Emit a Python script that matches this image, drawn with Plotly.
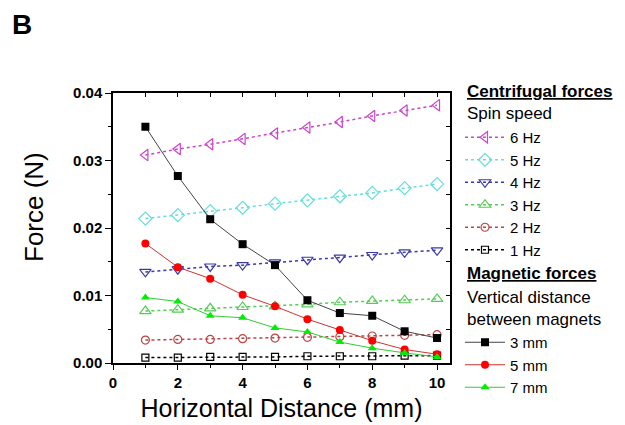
import plotly.graph_objects as go

distance_mm = [1, 2, 3, 4, 5, 6, 7, 8, 9, 10]

spin_labels = ["6 Hz", "5 Hz", "4 Hz", "3 Hz", "2 Hz", "1 Hz"]
centrifugal_6hz = [0.0308, 0.0317, 0.0324, 0.0332, 0.0340, 0.0349, 0.0357, 0.0366, 0.0374, 0.0382]
centrifugal_5hz = [0.0214, 0.0219, 0.0225, 0.0230, 0.0236, 0.0241, 0.0247, 0.0252, 0.0259, 0.0265]
centrifugal_4hz = [0.0135, 0.0139, 0.0143, 0.0145, 0.0149, 0.0153, 0.0156, 0.0160, 0.0164, 0.0167]
centrifugal_3hz = [0.0077, 0.0079, 0.0081, 0.0083, 0.0084, 0.0087, 0.0090, 0.0092, 0.0093, 0.0095]
centrifugal_2hz = [0.0034, 0.0035, 0.0035, 0.0036, 0.0037, 0.0038, 0.0039, 0.0040, 0.0041, 0.0042]
centrifugal_1hz = [0.0008, 0.0008, 0.0009, 0.0009, 0.0009, 0.0010, 0.0010, 0.0010, 0.0011, 0.0011]

magnet_labels = ["3 mm", "5 mm", "7 mm"]
magnetic_3mm = [0.0350, 0.0277, 0.0213, 0.0176, 0.0145, 0.0093, 0.0074, 0.0070, 0.0047, 0.0037]
magnetic_5mm = [0.0177, 0.0142, 0.0125, 0.0101, 0.0084, 0.0065, 0.0049, 0.0033, 0.0020, 0.0013]
magnetic_7mm = [0.0097, 0.0091, 0.0070, 0.0067, 0.0052, 0.0046, 0.0031, 0.0022, 0.0015, 0.0009]

legend_headers = ["<b><u>Centrifugal forces</u></b>", "Spin speed",
                  "<b><u>Magnetic forces</u></b>", "Vertical distance", "between magnets"]
x_title = "Horizontal Distance (mm)"
y_title = "Force (N)"

centrifugal = [centrifugal_6hz, centrifugal_5hz, centrifugal_4hz, centrifugal_3hz, centrifugal_2hz, centrifugal_1hz]
magnetic = [magnetic_3mm, magnetic_5mm, magnetic_7mm]

c_colors = ["#cc44cc", "#66dddd", "#3a3aaa", "#55cc55", "#bb4444", "#000000"]
c_symbols = ["triangle-left-open", "diamond-open", "triangle-down-open",
             "triangle-up-open", "circle-open", "square-open"]
c_sizes = [10, 10, 10, 10, 8, 7]

m_line_colors = ["#444444", "#cc3333", "#33cc33"]
m_marker_colors = ["#000000", "#ff0000", "#00ee00"]
m_symbols = ["square", "circle", "triangle-up"]

FONT = "Liberation Sans, Arial, sans-serif"

fig = go.Figure()

for name, ys, col, sym, sz in zip(spin_labels, centrifugal, c_colors, c_symbols, c_sizes):
    fig.add_trace(go.Scatter(
        x=distance_mm, y=ys, name=name, mode="lines+markers",
        line=dict(color=col, width=1.5, dash="3px,3px"),
        marker=dict(symbol=sym, size=sz, color=col, line=dict(width=1.2, color=col)),
        legend="legend",
    ))

for name, ys, lc, mc, sym in zip(magnet_labels, magnetic, m_line_colors, m_marker_colors, m_symbols):
    fig.add_trace(go.Scatter(
        x=distance_mm, y=ys, name=name, mode="lines+markers",
        line=dict(color=lc, width=1),
        marker=dict(symbol=sym, size=8, color=mc, line=dict(width=0)),
        legend="legend2",
    ))

tickfont = dict(family=FONT, size=15, color="#000", weight="bold")

# plot area in figure px: left 105, right 442, top 85, bottom 355 (page adds 8px body margin)
PL, PR, PT, PB = 105, 442, 85, 355
PW, PH = PR - PL, PB - PT

def px_x(sx):
    return (sx - 8 - PL) / PW

def px_y(sy):
    return (PB - (sy - 8)) / PH

header_y = [91, 114, 273, 297, 319]
annotations = [dict(text=t, x=px_x(465), y=px_y(yy), xref="paper", yref="paper",
                    xanchor="left", yanchor="middle", showarrow=False,
                    font=dict(family=FONT, size=17, color="#000"))
               for t, yy in zip(legend_headers, header_y)]
annotations.append(dict(text="<b>B</b>", x=px_x(22), y=px_y(24), xref="paper", yref="paper",
                        xanchor="center", yanchor="middle", showarrow=False,
                        font=dict(family=FONT, size=28, color="#000")))
annotations.append(dict(text=y_title, x=px_x(34), y=px_y(207), xref="paper", yref="paper",
                        xanchor="center", yanchor="middle", textangle=-90, showarrow=False,
                        font=dict(family=FONT, size=26, color="#000")))

legend_common = dict(xanchor="left", yanchor="top", traceorder="normal",
                     font=dict(family=FONT, size=15, color="#000"), itemwidth=40,
                     bgcolor="rgba(0,0,0,0)", maxheight=420)

fig.update_layout(
    width=625, height=425,
    margin=dict(l=PL, r=625 - PR, t=PT, b=425 - PB, autoexpand=False),
    paper_bgcolor="white", plot_bgcolor="white",
    font=dict(family=FONT, size=15, color="#000"),
    showlegend=True,
    legend=dict(x=px_x(460), y=px_y(121), **legend_common),
    legend2=dict(x=px_x(460), y=px_y(326), **legend_common),
    xaxis=dict(range=[0, 10.4], tickvals=[0, 2, 4, 6, 8, 10], automargin=False,
               ticks="outside", ticklen=5, tickwidth=1, tickcolor="#000",
               minor=dict(tickvals=[1, 3, 5, 7, 9], ticks="outside", ticklen=3, tickcolor="#000"),
               showline=True, linecolor="#000", linewidth=1.5, showgrid=False, zeroline=False,
               tickfont=tickfont,
               title=dict(text=x_title, standoff=10,
                          font=dict(family=FONT, size=25, color="#000"))),
    yaxis=dict(range=[0, 0.04], tickvals=[0, 0.01, 0.02, 0.03, 0.04], tickformat=".2f",
               automargin=False,
               ticks="outside", ticklen=6, tickwidth=1, tickcolor="#000",
               minor=dict(tickvals=[0.005, 0.015, 0.025, 0.035], ticks="outside", ticklen=3, tickcolor="#000"),
               showline=True, linecolor="#000", linewidth=1.5, showgrid=False, zeroline=False,
               tickfont=tickfont),
    xaxis2=dict(overlaying="x", side="top", range=[0, 10.4], dtick=1, tick0=0,
                ticks="inside", ticklen=4, tickcolor="#000", showticklabels=False,
                showline=True, linecolor="#000", linewidth=1.5, showgrid=False, zeroline=False,
                anchor="y", automargin=False),
    yaxis2=dict(overlaying="y", side="right", range=[0, 0.04], dtick=0.005, tick0=0,
                ticks="inside", ticklen=4, tickcolor="#000", showticklabels=False,
                showline=True, linecolor="#000", linewidth=1.5, showgrid=False, zeroline=False,
                anchor="x", automargin=False),
    annotations=annotations,
)

fig.add_trace(go.Scatter(x=[None], y=[None], xaxis="x2", yaxis="y2",
                         showlegend=False, hoverinfo="skip"))

fig.write_html("out.html")
